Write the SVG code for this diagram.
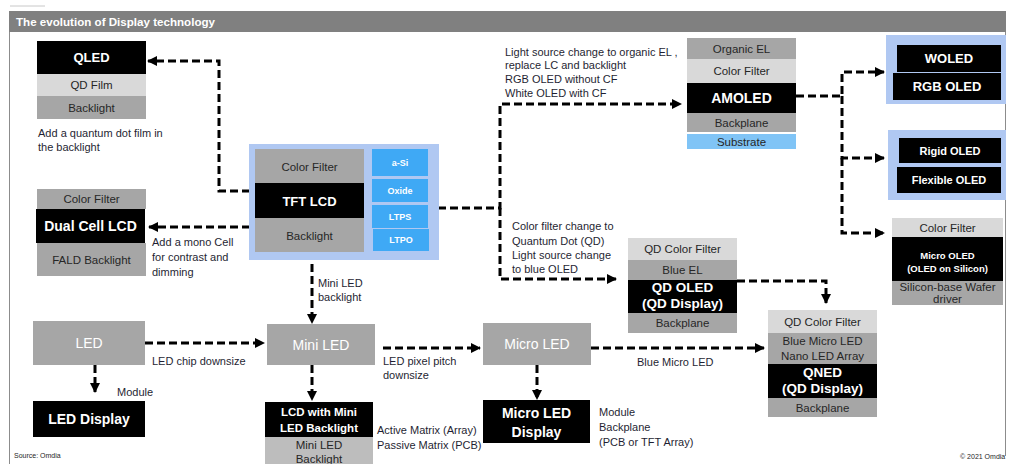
<svg xmlns="http://www.w3.org/2000/svg" width="1011" height="464" viewBox="0 0 1011 464">
<defs>
<marker id="ah" viewBox="0 0 10 10" refX="9" refY="5" markerWidth="10" markerHeight="10" markerUnits="userSpaceOnUse" orient="auto">
<path d="M0,0 L10,5 L0,10 Z" fill="#000"/>
</marker>
</defs>
<style>
text{font-family:"Liberation Sans",Arial,sans-serif}
.blk{fill:#000}
.g{fill:#a6a6a6}
.lg{fill:#d9d9d9}
.bb{fill:#3fa9f5}
.bg{fill:#b0c8f2}
.wt{fill:#fff;font-weight:bold;text-anchor:middle}
.wr{fill:#fff;text-anchor:middle;font-size:14px}
.dt{fill:#262626;text-anchor:middle;font-size:11.5px}
.lb{fill:#1f1f33;font-size:11px}
.c{fill:none;stroke:#000;stroke-width:3;stroke-dasharray:8 4}
.ca{fill:none;stroke:#000;stroke-width:3;stroke-dasharray:8 4;marker-end:url(#ah)}
</style>
<rect width="1011" height="464" fill="#fff"/>
<line x1="10" y1="6" x2="45" y2="6" stroke="#c8c8c8" stroke-width="1"/>
<rect x="9" y="11" width="997" height="21" fill="#808080"/>
<line x1="9.5" y1="32" x2="9.5" y2="464" stroke="#8c8c8c" stroke-width="1"/>
<line x1="1005.5" y1="32" x2="1005.5" y2="456" stroke="#8c8c8c" stroke-width="1"/>
<text x="16" y="26" fill="#fff" font-weight="bold" font-size="11.5" textLength="199" lengthAdjust="spacingAndGlyphs">The evolution of Display technology</text>

<g id="connectors">
<path class="ca" d="M250,191 H219 V61 H148"/>
<path class="ca" d="M250,227 H149"/>
<path class="ca" d="M438,208 H500 V104 H681"/>
<path class="ca" d="M500,208 V279 H616"/>
<path class="ca" d="M796,96 H842 V72 H884"/>
<path class="ca" d="M842,96 V158 H884"/>
<path class="ca" d="M842,158 V233 H884"/>
<path class="ca" d="M312,252 V323"/>
<path class="ca" d="M145,343 H264"/>
<path class="ca" d="M95,365 V392"/>
<path class="ca" d="M383,348 H480"/>
<path class="ca" d="M312,365 V400"/>
<path class="ca" d="M591,348 H764"/>
<path class="ca" d="M537,365 V399"/>
<path class="ca" d="M737,281 H826 V303"/>
</g>

<g id="qled">
<rect class="blk" x="37" y="41" width="109" height="33"/>
<text class="wt" x="91.5" y="62" font-size="13">QLED</text>
<rect class="lg" x="37" y="74" width="109" height="22"/>
<text class="dt" x="91.5" y="89">QD Film</text>
<rect class="g" x="37" y="96" width="109" height="23"/>
<text class="dt" x="91.5" y="111.5">Backlight</text>
</g>
<text class="lb" x="38" y="137">Add a quantum dot film in</text>
<text class="lb" x="38" y="151">the backlight</text>

<g id="tftlcd">
<rect class="bg" x="249" y="144" width="190" height="116"/>
<rect class="g" x="255" y="149" width="109" height="34"/>
<text class="dt" x="309.5" y="170.5" font-size="12">Color Filter</text>
<rect class="blk" x="255" y="183" width="109" height="35"/>
<text class="wt" x="309.5" y="205.5" font-size="13">TFT LCD</text>
<rect class="g" x="255" y="218" width="109" height="34"/>
<text class="dt" x="309.5" y="239.5" font-size="12">Backlight</text>
<rect class="bb" x="372" y="149" width="56" height="27"/>
<text class="wt" x="400" y="166" font-size="9">a-Si</text>
<rect class="bb" x="372" y="179" width="56" height="23"/>
<text class="wt" x="400" y="193.5" font-size="9">Oxide</text>
<rect class="bb" x="372" y="205" width="56" height="23"/>
<text class="wt" x="400" y="219.5" font-size="9">LTPS</text>
<rect class="bb" x="373" y="229" width="56" height="22"/>
<text class="wt" x="401" y="243" font-size="9">LTPO</text>
</g>

<g id="dualcell">
<rect class="g" x="37" y="189" width="109" height="20"/>
<text class="dt" x="91.5" y="203">Color Filter</text>
<rect class="blk" x="36" y="209" width="109" height="34"/>
<text class="wt" x="90.5" y="231" font-size="14">Dual Cell LCD</text>
<rect class="g" x="37" y="243" width="109" height="33"/>
<text class="dt" x="91.5" y="263.5">FALD Backlight</text>
</g>
<text class="lb" x="152" y="246">Add a mono Cell</text>
<text class="lb" x="152" y="261">for contrast and</text>
<text class="lb" x="152" y="276">dimming</text>
<text class="lb" x="318" y="287">Mini LED</text>
<text class="lb" x="318" y="301">backlight</text>

<text class="lb" x="505" y="56">Light source change to organic EL ,</text>
<text class="lb" x="505" y="69">replace LC and backlight</text>
<text class="lb" x="505" y="83">RGB OLED without CF</text>
<text class="lb" x="505" y="97">White OLED with CF</text>

<g id="amoled">
<rect class="g" x="687" y="38" width="109" height="21"/>
<text class="dt" x="741.5" y="52.5">Organic EL</text>
<rect class="lg" x="687" y="59" width="109" height="24"/>
<text class="dt" x="741.5" y="75">Color Filter</text>
<rect class="blk" x="687" y="83" width="109" height="30"/>
<text class="wt" x="741.5" y="103" font-size="14">AMOLED</text>
<rect class="g" x="687" y="113" width="109" height="19"/>
<text class="dt" x="741.5" y="126.5">Backplane</text>
<rect x="687" y="134" width="109" height="15" fill="#80c4f6"/>
<text class="dt" x="741.5" y="145.5">Substrate</text>
</g>

<g id="woled">
<rect class="bg" x="886" y="35" width="120" height="69"/>
<rect class="blk" x="897" y="45" width="104" height="27"/>
<text class="wt" x="949" y="63" font-size="13">WOLED</text>
<rect class="blk" x="893" y="73" width="108" height="27"/>
<text class="wt" x="947" y="91" font-size="13">RGB OLED</text>
</g>

<g id="rigidflex">
<rect class="bg" x="888" y="130" width="118" height="70"/>
<rect class="blk" x="899" y="138" width="102" height="25"/>
<text class="wt" x="950" y="154.5" font-size="11">Rigid OLED</text>
<rect class="blk" x="897" y="167" width="104" height="26"/>
<text class="wt" x="949" y="184" font-size="11">Flexible OLED</text>
</g>

<g id="microoled">
<rect class="lg" x="892" y="218" width="111" height="19"/>
<text class="dt" x="947.5" y="231.5">Color Filter</text>
<rect class="blk" x="892" y="237" width="111" height="44"/>
<text class="wt" x="947.5" y="258.5" font-size="9.5">Micro OLED</text>
<text class="wt" x="947.5" y="271.5" font-size="9.5">(OLED on Silicon)</text>
<rect class="g" x="892" y="281" width="111" height="24"/>
<text class="dt" x="947.5" y="291" font-size="9">Silicon-base Wafer</text>
<text class="dt" x="947.5" y="302.5" font-size="9">driver</text>
</g>

<text class="lb" x="512" y="230">Color filter change to</text>
<text class="lb" x="512" y="245">Quantum Dot (QD)</text>
<text class="lb" x="512" y="259">Light source change</text>
<text class="lb" x="512" y="273">to blue OLED</text>

<g id="qdoled">
<rect class="lg" x="628" y="238" width="109" height="22"/>
<text class="dt" x="682.5" y="253">QD Color Filter</text>
<rect class="g" x="628" y="260" width="109" height="20"/>
<text class="dt" x="682.5" y="274">Blue EL</text>
<rect class="blk" x="628" y="280" width="109" height="33"/>
<text class="wt" x="682.5" y="292" font-size="13.5">QD OLED</text>
<text class="wt" x="682.5" y="307.5" font-size="13.5">(QD Display)</text>
<rect class="g" x="628" y="313" width="109" height="20"/>
<text class="dt" x="682.5" y="327">Backplane</text>
</g>

<g id="qned">
<rect class="lg" x="768" y="310" width="109" height="23"/>
<text class="dt" x="822.5" y="325.5">QD Color Filter</text>
<rect class="g" x="768" y="333" width="109" height="31"/>
<text class="dt" x="822.5" y="345">Blue Micro LED</text>
<text class="dt" x="822.5" y="360">Nano LED Array</text>
<rect class="blk" x="768" y="364" width="109" height="34"/>
<text class="wt" x="822.5" y="377" font-size="13.5">QNED</text>
<text class="wt" x="822.5" y="393" font-size="13.5">(QD Display)</text>
<rect class="g" x="768" y="398" width="109" height="19"/>
<text class="dt" x="822.5" y="411.5">Backplane</text>
</g>

<g id="led">
<rect class="g" x="33" y="321" width="112" height="44"/>
<text class="wr" x="89" y="348">LED</text>
</g>
<g id="leddisplay">
<rect class="blk" x="33" y="401" width="112" height="36"/>
<text class="wt" x="89" y="424" font-size="14">LED Display</text>
</g>
<text class="lb" x="152" y="365">LED chip downsize</text>
<text class="lb" x="117" y="396">Module</text>

<g id="miniled">
<rect class="g" x="267" y="324" width="108" height="41"/>
<text class="wr" x="321" y="349.5">Mini LED</text>
</g>
<g id="lcdminiled">
<rect class="blk" x="265" y="402" width="108" height="35"/>
<text class="wt" x="319" y="416" font-size="11.5">LCD with Mini</text>
<text class="wt" x="319" y="432" font-size="11.5">LED Backlight</text>
<rect x="265" y="437" width="108" height="30" fill="#bdbdbd"/>
<text class="dt" x="319" y="449">Mini LED</text>
<text class="dt" x="319" y="463">Backlight</text>
</g>
<text class="lb" x="383" y="365">LED pixel pitch</text>
<text class="lb" x="383" y="379">downsize</text>
<text class="lb" x="377" y="434">Active Matrix (Array)</text>
<text class="lb" x="377" y="449">Passive Matrix (PCB)</text>

<g id="microled">
<rect class="g" x="483" y="323" width="108" height="42"/>
<text class="wr" x="537" y="349">Micro LED</text>
</g>
<g id="microleddisplay">
<rect class="blk" x="483" y="400" width="107" height="43"/>
<text class="wt" x="536.5" y="418" font-size="14">Micro LED</text>
<text class="wt" x="536.5" y="437" font-size="14">Display</text>
</g>
<text class="lb" x="637" y="366">Blue Micro LED</text>
<text class="lb" x="599" y="416">Module</text>
<text class="lb" x="599" y="431">Backplane</text>
<text class="lb" x="599" y="446">(PCB or TFT Array)</text>

<text x="14" y="458" font-size="7" fill="#262626">Source: Omdia</text>
<text x="960" y="459" font-size="7" fill="#262626">© 2021 Omdia</text>
</svg>
